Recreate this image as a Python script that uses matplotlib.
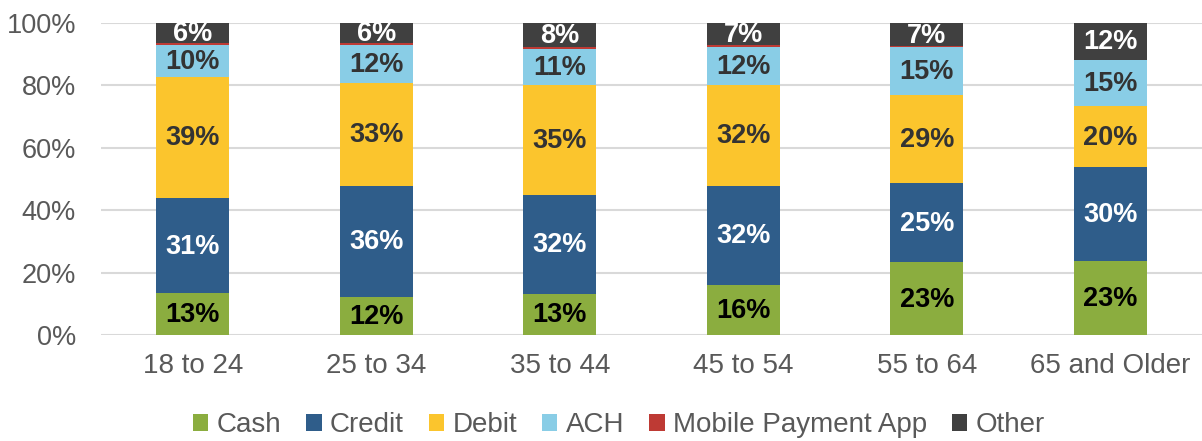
import matplotlib
matplotlib.use("Agg")
import matplotlib.pyplot as plt
import numpy as np
from matplotlib.patches import Patch

plt.rcParams['font.family'] = ['Liberation Sans', 'DejaVu Sans']

categories = ["18 to 24", "25 to 34", "35 to 44", "45 to 54", "55 to 64", "65 and Older"]
series_names = ["Cash", "Credit", "Debit", "ACH", "Mobile Payment App", "Other"]
cash   = [13.4, 12.1, 13.1, 16.0, 23.3, 23.6]
credit = [30.5, 35.8, 31.9, 31.9, 25.3, 30.1]
debit  = [38.9, 32.9, 35.2, 32.3, 28.4, 19.8]
ach    = [10.2, 12.0, 11.5, 12.1, 15.2, 14.7]
mobile = [0.7, 0.9, 0.7, 0.5, 0.3, 0.0]
other  = [6.3, 6.3, 7.6, 7.2, 7.5, 11.8]
labels_cash   = ["13%", "12%", "13%", "16%", "23%", "23%"]
labels_credit = ["31%", "36%", "32%", "32%", "25%", "30%"]
labels_debit  = ["39%", "33%", "35%", "32%", "29%", "20%"]
labels_ach    = ["10%", "12%", "11%", "12%", "15%", "15%"]
labels_other  = ["6%", "6%", "8%", "7%", "7%", "12%"]

colors = ["#8BAD3F", "#2F5D8A", "#FBC52D", "#89CDE6", "#BE3A34", "#404040"]
label_colors = ["#000000", "#FFFFFF", "#333333", "#333333", None, "#FFFFFF"]

fig = plt.figure(figsize=(12.02, 4.41), dpi=100)
ax = fig.add_axes([101/1202, 1 - 335/441, 1101/1202, (335-23)/441])

data = [cash, credit, debit, ach, mobile, other]
lbls = [labels_cash, labels_credit, labels_debit, labels_ach, None, labels_other]
x = np.arange(len(categories))
bottom = np.zeros(len(categories))
for vals, col, lab, lc, name in zip(data, colors, lbls, label_colors, series_names):
    vals = np.array(vals)
    ax.bar(x, vals, 0.4, bottom=bottom, color=col, zorder=3, label=name)
    if lab is not None:
        for xi, b, v, t in zip(x, bottom, vals, lab):
            ax.text(xi, b + v/2 - 0.3, t, ha='center', va='center', fontsize=19.5,
                    fontweight='bold', color=lc, zorder=4)
    bottom += vals

ax.set_xlim(-0.5, 5.5)
ax.set_ylim(0, 100)
ax.set_yticks(range(0, 101, 20))
ax.set_yticklabels([f"{v}%" for v in range(0, 101, 20)])
ax.set_xticks(x)
ax.set_xticklabels(categories)
ax.tick_params(axis='y', length=0, pad=18, labelsize=19.5, labelcolor='#595959')
ax.tick_params(axis='x', length=0, pad=13, labelsize=20, labelcolor='#595959')
ax.grid(axis='y', color='#D9D9D9', linewidth=1.5, zorder=0)
for s in ax.spines.values():
    s.set_visible(False)

handles = [Patch(facecolor=c, label=n) for c, n in zip(colors, series_names)]
fig.legend(handles=handles, loc='center', bbox_to_anchor=(0.515, 1 - 425/441),
           ncol=6, frameon=False, fontsize=20, labelcolor='#595959',
           handlelength=0.55, handleheight=0.55, handletextpad=0.3, columnspacing=0.9,
           borderaxespad=0)

fig.savefig("out.png", dpi=100)
